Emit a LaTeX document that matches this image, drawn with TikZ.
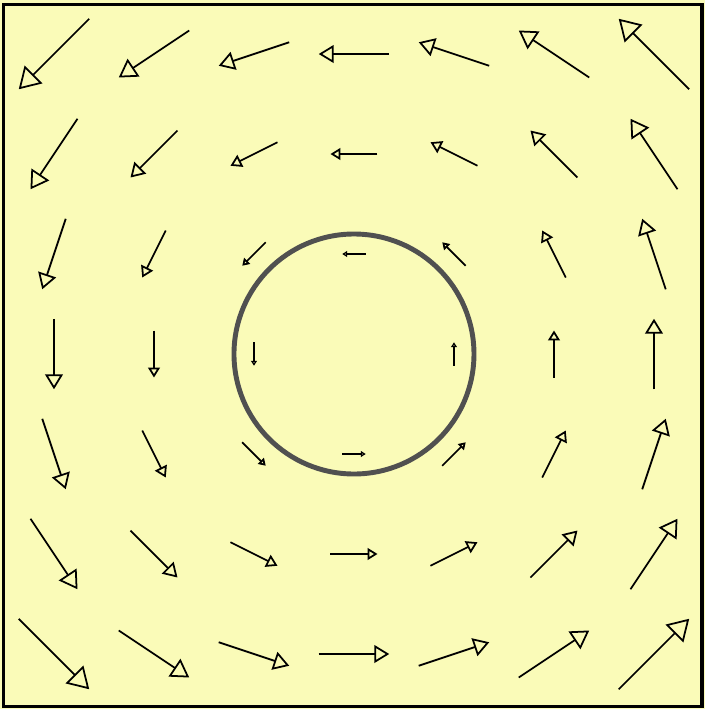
\documentclass[tikz,border=0pt]{standalone}
\usepackage{tikz}
\usetikzlibrary{arrows.meta,calc}
\definecolor{paleyellow}{RGB}{250,251,184}
\definecolor{ringgray}{RGB}{80,80,80}

\begin{document}
\begin{tikzpicture}[x=1cm,y=1cm,
    fieldarrow/.style={line width=0.5pt}]
    \useasboundingbox (-3.54,-3.55) rectangle (3.51,3.54);
    \fill[paleyellow] (-3.54,-3.55) rectangle (3.51,3.54);
    \draw[line width=1pt] (-3.505,-3.525) rectangle (3.48,3.495);
    \draw[ringgray, line width=1.4pt] (0,0) circle (1.2);
    % rotating field, arrow length grows with the radius
    \foreach \i in {-3,...,3}{
        \foreach \j in {-3,...,3}{
            \ifnum\numexpr\i*\i+\j*\j\relax>0
                \pgfmathsetmacro{\len}{0.235*sqrt(\i*\i+\j*\j)}
                \pgfmathsetmacro{\hl}{0.21*\len}
                \pgfmathsetmacro{\hw}{0.25*\len}
                \coordinate (c) at (\i,\j);
                \draw[fieldarrow, -{Triangle[open,length=\hl cm,width=\hw cm]}]
                    ($(c)-(-0.1175*\j,0.1175*\i)$) -- ($(c)+(-0.1175*\j,0.1175*\i)$);
            \fi
        }
    }
\end{tikzpicture}
\end{document}
